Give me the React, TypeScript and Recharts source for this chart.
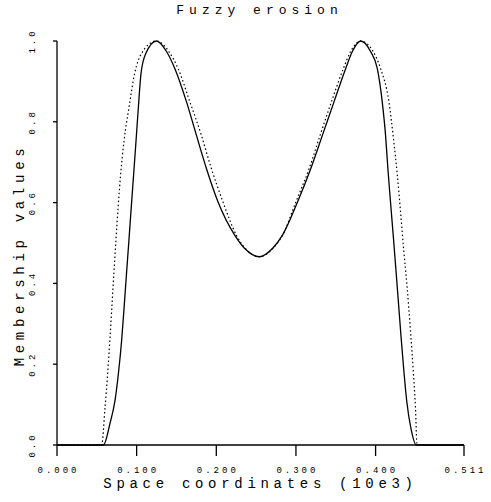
import { LineChart, Line, XAxis, YAxis } from "recharts";

// curves (x in 10e3 units, y membership)
const solidX = [0, 0.0583, 0.0666, 0.0729, 0.0771, 0.0812, 0.0843, 0.0873, 0.0903, 0.0933, 0.0963, 0.0993, 0.1022, 0.1055, 0.1115, 0.125, 0.1375, 0.1479, 0.1625, 0.175, 0.1875, 0.2021, 0.2229, 0.2354, 0.2541, 0.2708, 0.2833, 0.3021, 0.3188, 0.3333, 0.3479, 0.3625, 0.3708, 0.3812, 0.3937, 0.4021, 0.4083, 0.4125, 0.4154, 0.4187, 0.4221, 0.4254, 0.4286, 0.4318, 0.4352, 0.4392, 0.4445, 0.4512, 0.511];
const solidY = [0, 0, 0.054, 0.111, 0.177, 0.26, 0.342, 0.425, 0.507, 0.59, 0.672, 0.755, 0.837, 0.92, 0.969, 1.0, 0.974, 0.932, 0.85, 0.767, 0.685, 0.602, 0.52, 0.487, 0.466, 0.487, 0.52, 0.602, 0.685, 0.767, 0.85, 0.932, 0.974, 1.0, 0.974, 0.932, 0.85, 0.767, 0.685, 0.602, 0.52, 0.437, 0.355, 0.272, 0.19, 0.107, 0.04, 0, 0];

const dottedX = [0, 0.056, 0.0604, 0.0636, 0.0664, 0.0689, 0.0714, 0.074, 0.0768, 0.08, 0.0843, 0.0905, 0.0975, 0.106, 0.125, 0.1404, 0.152, 0.1667, 0.1812, 0.1937, 0.2083, 0.225, 0.2362, 0.2541, 0.2712, 0.2833, 0.3, 0.3167, 0.3304, 0.3446, 0.3596, 0.3687, 0.3812, 0.397, 0.4062, 0.4167, 0.4229, 0.4271, 0.4312, 0.4354, 0.4396, 0.4437, 0.4475, 0.45, 0.4521, 0.511];
const dottedY = [0, 0, 0.095, 0.177, 0.26, 0.342, 0.425, 0.507, 0.59, 0.672, 0.755, 0.837, 0.92, 0.969, 1.0, 0.974, 0.932, 0.85, 0.767, 0.685, 0.602, 0.52, 0.487, 0.466, 0.487, 0.52, 0.602, 0.685, 0.767, 0.85, 0.932, 0.974, 1.0, 0.974, 0.932, 0.85, 0.75, 0.672, 0.58, 0.48, 0.39, 0.285, 0.177, 0.095, 0, 0];

const xTicks = [0, 0.1, 0.2, 0.3, 0.4, 0.511];
const yTicks = [0, 0.2, 0.4, 0.6, 0.8, 1.0];

const solidData = solidX.map((x, i) => ({ x, y: solidY[i] }));
const dottedData = dottedX.map((x, i) => ({ x, y: dottedY[i] }));

const FONT = "'Liberation Mono', 'DejaVu Sans Mono', monospace";

const XTick = (props: any) => {
  const { x, payload } = props;
  return (
    <text x={x + 1.5} y={471} textAnchor="middle" dominantBaseline="central"
      fontFamily={FONT} fontSize={9} letterSpacing={3} fill="#000">
      {payload.value.toFixed(3)}
    </text>
  );
};

const YTick = (props: any) => {
  const { y, payload } = props;
  return (
    <text x={33} y={y} transform={`rotate(-90, 33, ${y})`} textAnchor="middle" dominantBaseline="central"
      fontFamily={FONT} fontSize={9} letterSpacing={3} fill="#000">
      {payload.value.toFixed(1)}
    </text>
  );
};

export default function App() {
  return (
    <div style={{ position: "relative", width: 491, height: 502, background: "#fff" }}>
      <style>{`body{margin:0}`}</style>
      <div style={{ position: "absolute", top: 3, left: 0, width: 491, textAlign: "center", fontFamily: FONT, fontSize: 13, letterSpacing: 5, paddingLeft: 28, boxSizing: "border-box" }}>
        Fuzzy erosion
      </div>
      <LineChart width={491} height={502} data={solidData}
        margin={{ top: 41, right: 27, bottom: 0, left: 0 }}>
        <XAxis dataKey="x" type="number" domain={[0, 0.511]} ticks={xTicks} allowDataOverflow
          tick={<XTick />} tickSize={11} stroke="#000" strokeWidth={1.3} height={57} />
        <YAxis type="number" domain={[0, 1]} ticks={yTicks} tick={<YTick />} tickSize={4}
          width={57} stroke="#000" strokeWidth={1.3} />
        <Line data={dottedData} dataKey="y" type="monotone" stroke="#000" strokeWidth={1.2}
          strokeDasharray="1.5 2.5" dot={false} isAnimationActive={false} />
        <Line data={solidData} dataKey="y" type="monotone" stroke="#000" strokeWidth={1.3}
          dot={false} isAnimationActive={false} />
      </LineChart>
      <div style={{ position: "absolute", top: 476, left: 0, width: 491, textAlign: "center", fontFamily: FONT, fontSize: 14, letterSpacing: 4.7, paddingLeft: 30, boxSizing: "border-box" }}>
        Space coordinates (10e3)
      </div>
      <div style={{ position: "absolute", left: 20, top: 255, transform: "translate(-50%, -50%) rotate(-90deg)", whiteSpace: "nowrap", fontFamily: FONT, fontSize: 14, letterSpacing: 4.7 }}>
        Membership values
      </div>
    </div>
  );
}
